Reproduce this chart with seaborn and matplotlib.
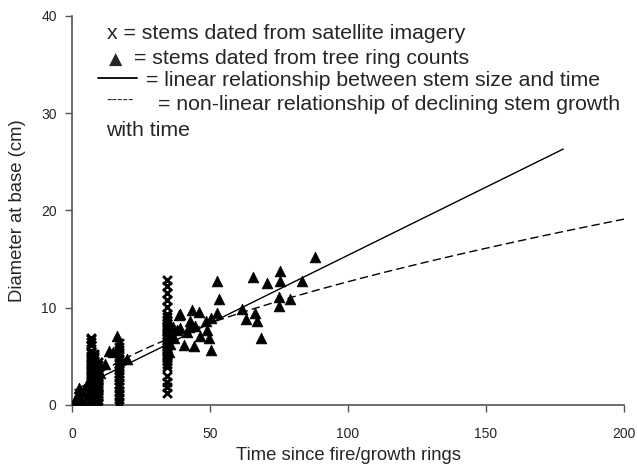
import matplotlib
matplotlib.use("Agg")
import matplotlib.pyplot as plt
import seaborn as sns
import numpy as np
import pandas as pd

# ---- data: stems dated from satellite imagery (x markers) ----
sat_time = ([7] * 26 + [8] * 20 + [9.5] * 18 + [17] * 17 + [34.5] * 32)
sat_diam = (
    [0.2, 0.5, 0.8, 1.0, 1.3, 1.5, 1.8, 2.0, 2.2, 2.5, 2.7, 3.0, 3.2, 3.5, 3.7,
     4.0, 4.2, 4.5, 4.8, 5.0, 5.3, 5.6, 6.2, 6.5, 6.8, 6.9]
    + [0.3, 0.6, 0.9, 1.2, 1.5, 1.8, 2.1, 2.4, 2.7, 3.0, 3.3, 3.6, 3.9, 4.2,
       4.5, 4.8, 5.0, 5.2, 1.0, 2.0]
    + [0.2, 0.5, 0.8, 1.1, 1.4, 1.7, 2.0, 2.3, 2.6, 2.9, 3.2, 3.5, 3.8, 4.1,
       4.4, 0.9, 1.9, 2.8]
    + [0.2, 0.6, 1.0, 1.4, 1.8, 2.2, 2.6, 3.0, 3.3, 3.6, 3.9, 4.2, 4.6, 5.0,
       5.5, 6.0, 6.4]
    + [1.2, 1.8, 2.4, 3.0, 3.9, 4.2, 4.5, 4.8, 5.1, 5.4, 5.7, 6.0, 6.3, 6.6,
       6.9, 7.2, 7.5, 7.8, 8.1, 8.4, 8.7, 9.0, 9.4, 10.1, 10.8, 11.5, 12.2,
       12.85, 5.0, 6.1, 7.0, 8.0]
)

# ---- data: stems dated from tree ring counts (triangles) ----
ring_time = [1, 2, 2.5, 3, 4, 4.5, 5, 6, 8, 10, 12, 13.5, 15, 16.4, 19.8,
             35, 35.5, 36, 36.5, 36.8, 38.1, 39, 38.7, 43.5, 45.9, 50.2, 48.4,
             39.3, 42.3, 44.7, 49.0, 46.5, 49.6, 40.5, 44.1, 50.4, 41.7, 42.9,
             52.6, 53.2, 52.6, 61.7, 62.9, 65.7, 66.2, 67.2, 68.4, 70.8, 75.4,
             75.4, 75.0, 75.0, 79.0, 83.5, 88.1]
ring_diam = [0.5, 1.0, 1.7, 0.6, 1.3, 0.3, 2.0, 1.0, 2.4, 3.3, 4.2, 5.6, 5.4,
             7.1, 4.7,
             5.5, 6.3, 7.0, 8.0, 6.9, 7.7, 9.4, 9.25, 9.8, 9.6, 8.9, 8.6,
             7.9, 8.05, 8.1, 7.7, 7.1, 6.9, 6.2, 6.1, 5.7, 7.5, 8.6,
             12.7, 10.9, 9.5, 9.9, 8.8, 13.2, 9.5, 8.6, 6.9, 12.5, 13.8,
             12.8, 11.1, 10.2, 10.9, 12.8, 15.2]

# ---- fitted relationships ----
lin_intercept, lin_slope, lin_range = 1.4, 0.14, (1, 178)
pow_a, pow_b, pow_range = 0.83, 0.592, (1, 200)

x_ticks = [0, 50, 100, 150, 200]
y_ticks = [0, 10, 20, 30, 40]

legend_lines = [
    "x = stems dated from satellite imagery",
    "= stems dated from tree ring counts",
    "= linear relationship between stem size and time",
    "= non-linear relationship of declining stem growth",
    "with time",
]

sns.set_style("ticks")
plt.rcParams["font.family"] = ["Liberation Sans", "DejaVu Sans"]

fig = plt.figure(figsize=(6.37, 4.70), dpi=100)
ax = fig.add_axes([72 / 637, 1 - 405 / 470, 552 / 637, 389 / 470])

sat_df = pd.DataFrame({"t": sat_time, "d": sat_diam})
ring_df = pd.DataFrame({"t": ring_time, "d": ring_diam})

lx = np.linspace(*lin_range, 100)
lin_df = pd.DataFrame({"t": lx, "d": lin_intercept + lin_slope * lx})
px = np.linspace(*pow_range, 200)
pow_df = pd.DataFrame({"t": px, "d": pow_a * px ** pow_b})

sns.lineplot(data=lin_df, x="t", y="d", ax=ax, color="black", lw=1.0)
sns.lineplot(data=pow_df, x="t", y="d", ax=ax, color="black", lw=1.0,
             linestyle=(0, (6, 3)))
sns.scatterplot(data=sat_df, x="t", y="d", ax=ax, marker="x", color="black",
                s=40, linewidth=2.0, zorder=3)
sns.scatterplot(data=ring_df, x="t", y="d", ax=ax, marker="^", color="black",
                s=60, edgecolor="black", linewidth=0.5, zorder=4)

ax.set_xlim(0, 200)
ax.set_ylim(0, 40)
ax.set_xticks(x_ticks)
ax.set_yticks(y_ticks)
ax.tick_params(labelsize=10, length=5, width=1, color="#555555")
ax.tick_params(axis="x", pad=11)
ax.tick_params(axis="y", pad=6)
ax.set_xlabel("Time since fire/growth rings", fontsize=13.3, va="center")
ax.set_ylabel("Diameter at base (cm)", fontsize=13.3, va="center")
ax.xaxis.set_label_coords(0.5, -(455 - 405) / 389)
ax.yaxis.set_label_coords((18 - 72) / 552, 0.5)
for s in ("top", "right"):
    ax.spines[s].set_visible(False)
for s in ("left", "bottom"):
    ax.spines[s].set_color("#555555")
    ax.spines[s].set_linewidth(1.2)

# legend text block (figure pixel coords)
def fx(p):
    return p / 637

def fy(p):
    return 1 - p / 470

fs = 15.3
fig.text(fx(106.5), fy(39), legend_lines[0], fontsize=fs, va="baseline")
fig.text(fx(108.5), fy(64.5), "▲", fontsize=12.5, va="baseline",
         family=["DejaVu Sans"])
fig.text(fx(134), fy(64.5), legend_lines[1], fontsize=fs, va="baseline")
fig.add_artist(plt.Line2D([fx(98), fx(137)], [fy(78), fy(78)],
                          color="black", lw=1.3))
fig.text(fx(146.5), fy(86.5), legend_lines[2], fontsize=fs, va="baseline")
fig.text(fx(106.5), fy(104.5), "-----", fontsize=12, va="baseline")
fig.text(fx(157.5), fy(110), legend_lines[3], fontsize=fs, va="baseline")
fig.text(fx(106.5), fy(136), legend_lines[4], fontsize=fs, va="baseline")

fig.savefig("out.png", dpi=100)
